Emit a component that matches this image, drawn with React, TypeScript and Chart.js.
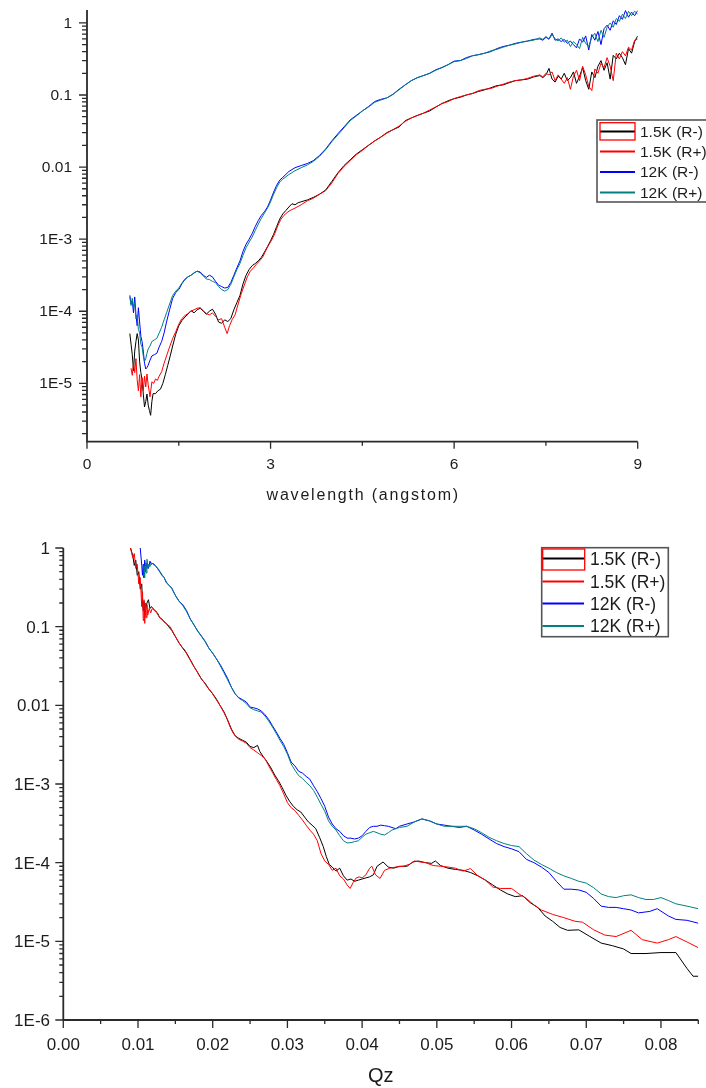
import React, { useEffect, useRef } from 'react';
import { Chart, registerables } from 'chart.js';

Chart.register(...registerables);

// ---------- shared series info ----------
const SERIES_LABELS = ['1.5K (R-)', '1.5K (R+)', '12K (R-)', '12K (R+)'];
const SERIES_COLORS = ['#000000', '#ff0000', '#0000ff', '#008080'];

// ---------- top chart: reflectivity vs wavelength ----------
const TOP_15K_RM: number[][] = [[0.70,4.9e-5],[0.72,3.5e-5],[0.74,2.5e-5],[0.76,1.5e-5],[0.78,2.8e-5],[0.80,3.8e-5],[0.82,4.9e-5],[0.84,4.0e-5],[0.86,2.0e-5],[0.88,1.41e-5],[0.90,1.12e-5],[0.92,7.1e-6],[0.94,4.7e-6],[0.96,5.6e-6],[0.98,7.1e-6],[1.00,5.0e-6],[1.02,4.2e-6],[1.04,3.6e-6],[1.06,5.6e-6],[1.08,7.2e-6],[1.12,7.2e-6],[1.16,7.9e-6],[1.20,8.3e-6],[1.24,1.0e-5],[1.28,1.32e-5],[1.32,1.78e-5],[1.36,2.4e-5],[1.40,3.3e-5],[1.45,4.8e-5],[1.50,6.3e-5],[1.55,7.4e-5],[1.60,8.3e-5],[1.65,9.1e-5],[1.70,1.02e-4],[1.75,9.5e-5],[1.80,1.05e-4],[1.85,1.1e-4],[1.90,1.0e-4],[1.95,9.1e-5],[2.00,1.0e-4],[2.05,1.07e-4],[2.10,9.1e-5],[2.15,7.1e-5],[2.20,6.8e-5],[2.25,7.6e-5],[2.30,7.2e-5],[2.35,7.9e-5],[2.40,1.05e-4],[2.45,1.32e-4],[2.50,1.66e-4],[2.55,2.4e-4],[2.60,3.16e-4],[2.65,3.8e-4],[2.70,4.3e-4],[2.75,4.6e-4],[2.80,5.0e-4],[2.85,5.6e-4],[2.90,6.6e-4],[2.95,7.9e-4],[3.00,9.5e-4],[3.05,1.17e-3],[3.10,1.5e-3],[3.15,1.9e-3],[3.20,2.24e-3],[3.25,2.5e-3],[3.30,2.8e-3],[3.35,3.1e-3],[3.40,3.0e-3],[3.45,3.2e-3],[3.50,3.3e-3],[3.60,3.5e-3],[3.70,3.8e-3],[3.80,4.2e-3],[3.90,4.8e-3],[4.00,6.3e-3],[4.10,8.3e-3],[4.20,1.05e-2],[4.30,1.26e-2],[4.40,1.51e-2],[4.50,1.74e-2],[4.60,2.0e-2],[4.70,2.3e-2],[4.80,2.6e-2],[4.90,3.0e-2],[5.00,3.3e-2],[5.10,3.6e-2],[5.20,4.4e-2],[5.30,4.8e-2],[5.40,5.2e-2],[5.50,5.6e-2],[5.60,6.0e-2],[5.70,6.8e-2],[5.80,7.6e-2],[5.90,8.3e-2],[6.00,8.9e-2],[6.10,9.3e-2],[6.20,0.1],[6.30,0.105],[6.40,0.112],[6.50,0.118],[6.60,0.126],[6.70,0.135],[6.80,0.138],[6.90,0.148],[7.00,0.158],[7.10,0.162],[7.20,0.166],[7.30,0.178],[7.40,0.186],[7.45,0.174],[7.50,0.19],[7.55,0.234],[7.60,0.166],[7.65,0.151],[7.70,0.182],[7.75,0.166],[7.80,0.2],[7.85,0.158],[7.90,0.174],[7.95,0.209],[8.00,0.145],[8.05,0.182],[8.10,0.24],[8.15,0.158],[8.20,0.12],[8.25,0.209],[8.30,0.174],[8.35,0.25],[8.40,0.30],[8.45,0.22],[8.50,0.28],[8.55,0.166],[8.60,0.355],[8.65,0.316],[8.70,0.38],[8.75,0.33],[8.80,0.263],[8.85,0.44],[8.90,0.38],[8.95,0.55],[9.00,0.66]];

const TOP_15K_RP: number[][] = [[0.72,1.62e-5],[0.74,1.29e-5],[0.76,1.9e-5],[0.78,1.41e-5],[0.80,2.2e-5],[0.82,1.12e-5],[0.84,7.9e-6],[0.86,1.32e-5],[0.88,6.5e-6],[0.90,1.2e-5],[0.92,7.9e-6],[0.94,1.26e-5],[0.96,8.9e-6],[0.98,1.35e-5],[1.00,9.5e-6],[1.03,6.5e-6],[1.06,1.05e-5],[1.09,1.0e-5],[1.12,1.15e-5],[1.15,1.1e-5],[1.18,1.26e-5],[1.22,1.45e-5],[1.26,1.9e-5],[1.30,2.4e-5],[1.35,3.2e-5],[1.40,4.2e-5],[1.45,5.2e-5],[1.50,6.6e-5],[1.55,7.9e-5],[1.60,8.7e-5],[1.65,9.3e-5],[1.70,1.0e-4],[1.75,1.05e-4],[1.80,1.1e-4],[1.85,1.12e-4],[1.90,1.02e-4],[1.95,9.3e-5],[2.00,8.9e-5],[2.05,9.5e-5],[2.10,8.5e-5],[2.15,7.6e-5],[2.20,7.9e-5],[2.25,6.0e-5],[2.29,4.9e-5],[2.33,6.3e-5],[2.37,7.6e-5],[2.42,8.9e-5],[2.47,1.26e-4],[2.52,1.74e-4],[2.57,2.3e-4],[2.62,3.0e-4],[2.67,3.6e-4],[2.72,4.0e-4],[2.77,4.5e-4],[2.82,5.0e-4],[2.87,5.6e-4],[2.92,6.9e-4],[2.97,8.3e-4],[3.02,9.8e-4],[3.07,1.2e-3],[3.12,1.55e-3],[3.17,1.9e-3],[3.22,2.14e-3],[3.27,2.34e-3],[3.32,2.5e-3],[3.40,2.7e-3],[3.50,3.0e-3],[3.60,3.4e-3],[3.70,3.7e-3],[3.80,4.2e-3],[3.90,4.7e-3],[4.00,6.0e-3],[4.10,8.1e-3],[4.20,1.02e-2],[4.30,1.23e-2],[4.40,1.48e-2],[4.50,1.7e-2],[4.60,2.0e-2],[4.70,2.3e-2],[4.80,2.6e-2],[4.90,2.95e-2],[5.00,3.3e-2],[5.10,3.7e-2],[5.20,4.3e-2],[5.30,4.8e-2],[5.40,5.2e-2],[5.50,5.6e-2],[5.60,6.2e-2],[5.70,6.8e-2],[5.80,7.6e-2],[5.90,8.1e-2],[6.00,8.9e-2],[6.10,9.5e-2],[6.20,0.1],[6.30,0.105],[6.40,0.115],[6.50,0.12],[6.60,0.123],[6.70,0.132],[6.80,0.141],[6.90,0.151],[7.00,0.158],[7.10,0.162],[7.20,0.17],[7.30,0.182],[7.40,0.19],[7.45,0.178],[7.50,0.2],[7.55,0.19],[7.60,0.209],[7.65,0.158],[7.70,0.19],[7.75,0.166],[7.80,0.145],[7.85,0.174],[7.90,0.12],[7.95,0.182],[8.00,0.22],[8.05,0.158],[8.10,0.25],[8.15,0.19],[8.20,0.132],[8.25,0.115],[8.30,0.23],[8.35,0.2],[8.40,0.275],[8.45,0.24],[8.50,0.33],[8.55,0.25],[8.60,0.158],[8.65,0.38],[8.70,0.316],[8.75,0.40],[8.80,0.35],[8.85,0.46],[8.90,0.42],[8.95,0.575],[9.00,0.60]];

const TOP_12K_RM: number[][] = [[0.70,1.66e-4],[0.72,1.26e-4],[0.74,1.41e-4],[0.76,9.5e-5],[0.78,1.58e-4],[0.80,8.9e-5],[0.82,6.3e-5],[0.84,1.12e-4],[0.86,7.1e-5],[0.88,4.5e-5],[0.90,3.8e-5],[0.92,2.8e-5],[0.94,1.9e-5],[0.96,1.58e-5],[0.98,1.66e-5],[1.00,1.78e-5],[1.03,2.1e-5],[1.06,2.4e-5],[1.10,2.5e-5],[1.14,2.6e-5],[1.18,3.2e-5],[1.22,3.8e-5],[1.26,5.0e-5],[1.30,7.1e-5],[1.35,1.05e-4],[1.40,1.51e-4],[1.45,1.82e-4],[1.50,2.0e-4],[1.55,2.4e-4],[1.60,2.75e-4],[1.65,3.0e-4],[1.70,3.16e-4],[1.75,3.4e-4],[1.80,3.6e-4],[1.85,3.5e-4],[1.90,3.16e-4],[1.95,2.95e-4],[2.00,3.16e-4],[2.05,3.0e-4],[2.10,2.6e-4],[2.15,2.3e-4],[2.20,2.2e-4],[2.25,2.1e-4],[2.30,2.14e-4],[2.35,2.5e-4],[2.40,3.16e-4],[2.45,4.0e-4],[2.50,5.0e-4],[2.55,6.8e-4],[2.60,8.5e-4],[2.65,1.0e-3],[2.70,1.2e-3],[2.75,1.5e-3],[2.80,1.82e-3],[2.85,2.14e-3],[2.90,2.4e-3],[2.95,2.8e-3],[3.00,3.5e-3],[3.05,4.5e-3],[3.10,5.6e-3],[3.15,6.6e-3],[3.20,7.2e-3],[3.30,8.7e-3],[3.40,9.8e-3],[3.50,1.05e-2],[3.60,1.12e-2],[3.70,1.23e-2],[3.80,1.45e-2],[3.90,1.78e-2],[4.00,2.3e-2],[4.10,2.9e-2],[4.20,3.6e-2],[4.30,4.5e-2],[4.40,5.2e-2],[4.50,6.0e-2],[4.60,6.9e-2],[4.70,8.1e-2],[4.80,8.7e-2],[4.90,9.1e-2],[5.00,0.102],[5.10,0.12],[5.20,0.138],[5.30,0.158],[5.40,0.174],[5.50,0.186],[5.60,0.2],[5.70,0.224],[5.80,0.24],[5.90,0.263],[6.00,0.295],[6.10,0.30],[6.20,0.33],[6.30,0.35],[6.40,0.363],[6.50,0.38],[6.60,0.40],[6.70,0.44],[6.80,0.47],[6.90,0.49],[7.00,0.52],[7.10,0.54],[7.20,0.56],[7.30,0.59],[7.40,0.60],[7.45,0.575],[7.50,0.63],[7.55,0.60],[7.60,0.72],[7.65,0.575],[7.70,0.60],[7.75,0.55],[7.80,0.59],[7.85,0.52],[7.90,0.56],[7.95,0.50],[8.00,0.45],[8.05,0.60],[8.10,0.54],[8.15,0.66],[8.20,0.42],[8.25,0.69],[8.30,0.575],[8.35,0.76],[8.40,0.50],[8.45,0.83],[8.50,0.93],[8.55,0.79],[8.60,1.07],[8.65,0.95],[8.70,1.26],[8.75,1.12],[8.80,1.48],[8.85,1.20],[8.90,1.41],[8.95,1.26],[9.00,1.48]];

const TOP_12K_RP: number[][] = [[0.70,1.58e-4],[0.72,1.2e-4],[0.74,1.51e-4],[0.76,1.12e-4],[0.78,1.32e-4],[0.80,7.9e-5],[0.82,8.9e-5],[0.84,5.6e-5],[0.86,5.0e-5],[0.88,3.5e-5],[0.90,3.2e-5],[0.92,2.4e-5],[0.94,2.0e-5],[0.96,2.2e-5],[0.98,2.6e-5],[1.00,3.0e-5],[1.03,3.3e-5],[1.06,3.8e-5],[1.10,4.0e-5],[1.14,4.2e-5],[1.18,5.0e-5],[1.22,6.0e-5],[1.26,7.6e-5],[1.30,9.5e-5],[1.35,1.26e-4],[1.40,1.66e-4],[1.45,1.9e-4],[1.50,2.1e-4],[1.55,2.45e-4],[1.60,2.8e-4],[1.65,3.0e-4],[1.70,3.16e-4],[1.75,3.4e-4],[1.80,3.6e-4],[1.85,3.4e-4],[1.90,3.1e-4],[1.95,2.8e-4],[2.00,2.75e-4],[2.05,2.6e-4],[2.10,2.5e-4],[2.15,2.2e-4],[2.20,2.0e-4],[2.25,1.9e-4],[2.30,2.0e-4],[2.35,2.35e-4],[2.40,3.0e-4],[2.45,3.8e-4],[2.50,4.6e-4],[2.55,6.0e-4],[2.60,7.6e-4],[2.65,9.1e-4],[2.70,1.07e-3],[2.75,1.32e-3],[2.80,1.62e-3],[2.85,1.95e-3],[2.90,2.3e-3],[2.95,2.7e-3],[3.00,3.3e-3],[3.05,4.2e-3],[3.10,5.2e-3],[3.15,6.2e-3],[3.20,6.8e-3],[3.30,7.9e-3],[3.40,8.9e-3],[3.50,9.8e-3],[3.60,1.07e-2],[3.70,1.2e-2],[3.80,1.41e-2],[3.90,1.74e-2],[4.00,2.24e-2],[4.10,2.8e-2],[4.20,3.5e-2],[4.30,4.4e-2],[4.40,5.1e-2],[4.50,6.0e-2],[4.60,6.8e-2],[4.70,7.9e-2],[4.80,8.5e-2],[4.90,9.1e-2],[5.00,0.102],[5.10,0.118],[5.20,0.138],[5.30,0.158],[5.40,0.174],[5.50,0.186],[5.60,0.2],[5.70,0.22],[5.80,0.24],[5.90,0.263],[6.00,0.29],[6.10,0.30],[6.20,0.32],[6.30,0.35],[6.40,0.363],[6.50,0.38],[6.60,0.41],[6.70,0.43],[6.80,0.46],[6.90,0.49],[7.00,0.51],[7.10,0.54],[7.20,0.56],[7.30,0.575],[7.40,0.62],[7.45,0.59],[7.50,0.65],[7.55,0.59],[7.60,0.69],[7.65,0.60],[7.70,0.56],[7.75,0.62],[7.80,0.54],[7.85,0.575],[7.90,0.47],[7.95,0.55],[8.00,0.50],[8.05,0.44],[8.10,0.63],[8.15,0.52],[8.20,0.47],[8.25,0.63],[8.30,0.72],[8.35,0.55],[8.40,0.79],[8.45,0.63],[8.50,0.87],[8.55,1.0],[8.60,0.87],[8.65,1.15],[8.70,1.05],[8.75,1.32],[8.80,1.15],[8.85,1.45],[8.90,1.26],[8.95,1.45],[9.00,1.32]];

const TOP_X_RANGE = [0, 9];
const TOP_Y_RANGE = [1.55e-6, 1.51];
const TOP_X_TICKS = [0, 3, 6, 9];
const TOP_X_TICK_LABELS = ['0', '3', '6', '9'];
const TOP_X_MINOR_TICKS = [1.5, 4.5, 7.5];
const TOP_Y_TICKS = [1e-5, 1e-4, 1e-3, 0.01, 0.1, 1];
const TOP_Y_TICK_LABELS = ['1E-5', '1E-4', '1E-3', '0.01', '0.1', '1'];
const TOP_X_TITLE = 'wavelength (angstom)';

// ---------- bottom chart: reflectivity vs Qz ----------
const BOT_15K_RM: number[][] = [[0.0090,1.0],[0.0093,0.8],[0.0095,0.6],[0.0097,0.7],[0.0099,0.45],[0.0101,0.5],[0.0103,0.3],[0.0105,0.35],[0.0106,0.2],[0.0107,0.16],[0.0108,0.21],[0.0109,0.13],[0.0110,0.16],[0.0112,0.2],[0.0114,0.22],[0.0116,0.17],[0.0118,0.18],[0.0120,0.17],[0.0123,0.16],[0.0126,0.15],[0.0129,0.13],[0.0132,0.125],[0.0135,0.115],[0.0138,0.11],[0.0141,0.1],[0.0145,0.09],[0.0150,0.075],[0.0155,0.062],[0.0160,0.053],[0.0165,0.046],[0.0170,0.038],[0.0175,0.031],[0.0180,0.026],[0.0185,0.0215],[0.0190,0.019],[0.0195,0.016],[0.0200,0.014],[0.0205,0.012],[0.0210,0.0099],[0.0215,0.0083],[0.0220,0.0065],[0.0225,0.005],[0.0230,0.0041],[0.0235,0.0038],[0.0240,0.0036],[0.0245,0.0034],[0.0250,0.003],[0.0255,0.0029],[0.0260,0.0031],[0.0263,0.0026],[0.0268,0.0022],[0.0273,0.0019],[0.0278,0.0016],[0.0283,0.0013],[0.0288,0.0011],[0.0293,0.0009],[0.0298,0.00072],[0.0303,0.0006],[0.0308,0.00052],[0.0313,0.00047],[0.0318,0.00044],[0.0323,0.00038],[0.0328,0.00033],[0.0333,0.0003],[0.0338,0.00027],[0.0343,0.00021],[0.0348,0.00016],[0.0352,0.00012],[0.0356,0.000095],[0.0360,0.000088],[0.0365,0.000078],[0.0370,0.000085],[0.0375,0.000068],[0.0380,0.00006],[0.0385,0.000062],[0.0390,0.000058],[0.0395,0.00006],[0.0400,0.000062],[0.0405,0.000064],[0.0410,0.000066],[0.0415,0.00007],[0.0420,0.00009],[0.0428,0.000102],[0.0435,0.000088],[0.0442,0.000085],[0.0450,0.00009],[0.0460,0.00009],[0.0468,0.000102],[0.0475,0.000105],[0.0485,0.0001],[0.0493,0.000098],[0.0498,0.000105],[0.0505,0.000092],[0.0515,0.000085],[0.0525,0.000082],[0.0535,0.00008],[0.0545,0.000075],[0.0555,0.000068],[0.0565,0.00006],[0.0575,0.000052],[0.0585,0.000045],[0.0595,0.00004],[0.0605,0.000037],[0.0615,0.000038],[0.0625,0.000031],[0.0635,0.000027],[0.0645,0.000021],[0.0655,0.000018],[0.0665,0.000015],[0.0675,0.0000138],[0.0690,0.000014],[0.0705,0.0000115],[0.0720,0.0000095],[0.0735,0.0000088],[0.0750,0.000008],[0.0760,0.000007],[0.0780,0.000007],[0.0800,0.0000072],[0.0820,0.0000072],[0.0835,0.0000045],[0.0843,0.0000036],[0.0850,0.0000036]];

const BOT_15K_RP: number[][] = [[0.0090,1.0],[0.0093,0.75],[0.0095,0.85],[0.0097,0.55],[0.0099,0.62],[0.0101,0.35],[0.0103,0.42],[0.0105,0.18],[0.0106,0.28],[0.0107,0.12],[0.0108,0.22],[0.0109,0.11],[0.0110,0.2],[0.0111,0.13],[0.0112,0.19],[0.0113,0.14],[0.0115,0.17],[0.0117,0.15],[0.0119,0.17],[0.0122,0.16],[0.0125,0.15],[0.0128,0.135],[0.0131,0.125],[0.0134,0.12],[0.0137,0.11],[0.0140,0.105],[0.0143,0.1],[0.0147,0.085],[0.0151,0.072],[0.0155,0.062],[0.0159,0.055],[0.0163,0.05],[0.0167,0.042],[0.0171,0.036],[0.0175,0.031],[0.0179,0.027],[0.0183,0.023],[0.0187,0.0205],[0.0191,0.018],[0.0195,0.016],[0.0199,0.0145],[0.0203,0.0125],[0.0207,0.011],[0.0211,0.0095],[0.0215,0.0081],[0.0219,0.0068],[0.0223,0.0054],[0.0227,0.0045],[0.0231,0.004],[0.0235,0.0037],[0.0240,0.0035],[0.0245,0.0033],[0.0250,0.0029],[0.0255,0.0027],[0.0260,0.0025],[0.0265,0.0023],[0.0270,0.0021],[0.0275,0.0017],[0.0280,0.0014],[0.0285,0.00115],[0.0290,0.00095],[0.0295,0.00075],[0.0300,0.00058],[0.0305,0.0005],[0.0310,0.00046],[0.0315,0.0004],[0.0320,0.00035],[0.0325,0.0003],[0.0330,0.00026],[0.0335,0.00023],[0.0340,0.00019],[0.0345,0.00013],[0.0350,0.000105],[0.0355,0.000095],[0.0360,0.00008],[0.0365,0.000085],[0.0370,0.000068],[0.0375,0.000062],[0.0380,0.000052],[0.0384,0.000047],[0.0388,0.000056],[0.0392,0.000064],[0.0396,0.000066],[0.0400,0.000064],[0.0405,0.00007],[0.0410,0.000085],[0.0413,0.00009],[0.0418,0.00007],[0.0424,0.000063],[0.0430,0.00008],[0.0437,0.000085],[0.0445,0.000088],[0.0455,0.00009],[0.0463,0.000095],[0.0470,0.000105],[0.0478,0.000102],[0.0485,0.0001],[0.0495,0.000092],[0.0505,0.00009],[0.0515,0.000088],[0.0525,0.000085],[0.0535,0.000078],[0.0545,0.000084],[0.0555,0.000068],[0.0565,0.00006],[0.0575,0.000049],[0.0585,0.000047],[0.0600,0.000047],[0.0610,0.00004],[0.0620,0.000035],[0.0630,0.000029],[0.0640,0.000025],[0.0655,0.000022],[0.0670,0.00002],[0.0685,0.000018],[0.0695,0.0000175],[0.0710,0.000014],[0.0725,0.000012],[0.0740,0.0000115],[0.0760,0.0000138],[0.0775,0.0000105],[0.0795,0.0000095],[0.0810,0.0000105],[0.0820,0.0000115],[0.0835,0.0000098],[0.0850,0.0000083]];

const BOT_12K_RM: number[][] = [[0.0103,1.0],[0.0105,0.6],[0.0106,0.45],[0.0107,0.62],[0.0108,0.42],[0.0109,0.7],[0.0110,0.5],[0.0112,0.65],[0.0114,0.55],[0.0116,0.68],[0.0118,0.62],[0.0120,0.64],[0.0123,0.6],[0.0126,0.55],[0.0129,0.5],[0.0132,0.45],[0.0135,0.42],[0.0138,0.36],[0.0141,0.34],[0.0145,0.31],[0.0150,0.25],[0.0155,0.21],[0.0160,0.19],[0.0165,0.16],[0.0170,0.125],[0.0175,0.105],[0.0180,0.088],[0.0185,0.076],[0.0190,0.065],[0.0195,0.053],[0.0200,0.046],[0.0205,0.039],[0.0210,0.033],[0.0215,0.027],[0.0220,0.022],[0.0225,0.017],[0.0230,0.014],[0.0235,0.0125],[0.0240,0.0118],[0.0245,0.011],[0.0250,0.0095],[0.0255,0.0093],[0.0260,0.009],[0.0265,0.0085],[0.0270,0.0076],[0.0275,0.0066],[0.0280,0.0055],[0.0285,0.0046],[0.0290,0.0038],[0.0295,0.0032],[0.0300,0.0025],[0.0305,0.0019],[0.0310,0.0017],[0.0315,0.00145],[0.0320,0.00138],[0.0325,0.00125],[0.0330,0.00115],[0.0335,0.00095],[0.0340,0.0008],[0.0345,0.00065],[0.0350,0.00052],[0.0355,0.00038],[0.0360,0.00031],[0.0365,0.00027],[0.0370,0.00025],[0.0375,0.00022],[0.0380,0.000205],[0.0385,0.000205],[0.0390,0.0002],[0.0395,0.000205],[0.0400,0.00022],[0.0405,0.00025],[0.0410,0.00028],[0.0415,0.00029],[0.0420,0.00029],[0.0425,0.0003],[0.0430,0.000295],[0.0435,0.00029],[0.0440,0.00028],[0.0445,0.00027],[0.0450,0.00029],[0.0460,0.00031],[0.0470,0.00033],[0.0480,0.00036],[0.0490,0.00034],[0.0500,0.00031],[0.0510,0.0003],[0.0520,0.00029],[0.0530,0.00028],[0.0540,0.00029],[0.0550,0.00026],[0.0560,0.00023],[0.0570,0.0002],[0.0580,0.000175],[0.0590,0.00016],[0.0600,0.00015],[0.0610,0.000138],[0.0620,0.00011],[0.0630,0.0001],[0.0640,0.000088],[0.0650,0.000075],[0.0660,0.000058],[0.0670,0.000046],[0.0680,0.000046],[0.0690,0.000045],[0.0700,0.000042],[0.0710,0.000035],[0.0720,0.000028],[0.0730,0.000027],[0.0740,0.000027],[0.0750,0.000026],[0.0760,0.000025],[0.0770,0.000023],[0.0785,0.000024],[0.0795,0.000026],[0.0810,0.000021],[0.0820,0.000019],[0.0835,0.0000185],[0.0850,0.000017]];

const BOT_12K_RP: number[][] = [[0.0107,0.45],[0.0108,0.6],[0.0109,0.42],[0.0110,0.65],[0.0111,0.48],[0.0112,0.72],[0.0113,0.55],[0.0114,0.62],[0.0116,0.58],[0.0118,0.65],[0.0120,0.62],[0.0123,0.6],[0.0126,0.56],[0.0129,0.51],[0.0132,0.46],[0.0135,0.42],[0.0138,0.37],[0.0141,0.34],[0.0145,0.31],[0.0150,0.25],[0.0155,0.21],[0.0160,0.185],[0.0165,0.155],[0.0170,0.125],[0.0175,0.105],[0.0180,0.087],[0.0185,0.075],[0.0190,0.064],[0.0195,0.053],[0.0200,0.046],[0.0205,0.039],[0.0210,0.032],[0.0215,0.026],[0.0220,0.021],[0.0225,0.017],[0.0230,0.014],[0.0235,0.0123],[0.0240,0.0115],[0.0245,0.0105],[0.0250,0.0093],[0.0255,0.0088],[0.0260,0.0085],[0.0265,0.0082],[0.0270,0.0073],[0.0275,0.0063],[0.0280,0.0053],[0.0285,0.0044],[0.0290,0.0036],[0.0295,0.003],[0.0300,0.0024],[0.0305,0.0018],[0.0310,0.0015],[0.0315,0.00128],[0.0320,0.00118],[0.0325,0.00105],[0.0330,0.00095],[0.0335,0.00083],[0.0340,0.00068],[0.0345,0.00055],[0.0350,0.00045],[0.0355,0.00034],[0.0360,0.00029],[0.0365,0.00026],[0.0370,0.00022],[0.0375,0.00019],[0.0380,0.000178],[0.0385,0.00018],[0.0390,0.000185],[0.0395,0.00019],[0.0400,0.00021],[0.0405,0.00023],[0.0410,0.00024],[0.0415,0.00025],[0.0420,0.00024],[0.0425,0.00023],[0.0430,0.000225],[0.0435,0.00024],[0.0440,0.00026],[0.0445,0.00027],[0.0450,0.00028],[0.0460,0.00029],[0.0470,0.00033],[0.0480,0.00036],[0.0490,0.00034],[0.0500,0.00031],[0.0510,0.00029],[0.0520,0.00029],[0.0530,0.00029],[0.0540,0.00029],[0.0550,0.00027],[0.0560,0.00024],[0.0570,0.00021],[0.0580,0.00019],[0.0590,0.000175],[0.0600,0.000165],[0.0610,0.00016],[0.0620,0.00013],[0.0630,0.000108],[0.0640,0.000095],[0.0650,0.000085],[0.0660,0.000075],[0.0670,0.000068],[0.0680,0.000063],[0.0690,0.000058],[0.0700,0.000055],[0.0710,0.000048],[0.0720,0.00004],[0.0730,0.000037],[0.0740,0.000036],[0.0750,0.000038],[0.0760,0.000039],[0.0770,0.000036],[0.0780,0.000034],[0.0790,0.000034],[0.0800,0.000036],[0.0810,0.000033],[0.0820,0.00003],[0.0835,0.000028],[0.0850,0.000026]];

const BOT_X_RANGE = [0, 0.085];
const BOT_Y_RANGE = [1e-6, 1];
const BOT_X_TICKS = [0, 0.01, 0.02, 0.03, 0.04, 0.05, 0.06, 0.07, 0.08];
const BOT_X_TICK_LABELS = ['0.00', '0.01', '0.02', '0.03', '0.04', '0.05', '0.06', '0.07', '0.08'];
const BOT_X_MINOR_TICKS = [0.005, 0.015, 0.025, 0.035, 0.045, 0.055, 0.065, 0.075, 0.085];
const BOT_Y_TICKS = [1e-6, 1e-5, 1e-4, 1e-3, 0.01, 0.1, 1];
const BOT_Y_TICK_LABELS = ['1E-6', '1E-5', '1E-4', '1E-3', '0.01', '0.1', '1'];
const BOT_X_TITLE = 'Qz';

// ---------- styling ----------
const FONT = '"Liberation Sans", Arial, sans-serif';
const AXIS_COLOR = '#2a2a2a';
const TEXT_COLOR = '#1c1c1c';

function logMinorTicks(min: number, max: number): number[] {
  const out: number[] = [];
  for (let e = Math.floor(Math.log10(min)); e <= Math.ceil(Math.log10(max)); e++) {
    for (let m = 2; m <= 9; m++) {
      const v = m * Math.pow(10, e);
      if (v >= min && v <= max) out.push(v);
    }
  }
  return out;
}

type Decor = {
  id: string;
  xTicks: number[]; xLabels: string[]; xMinor: number[];
  yTicks: number[]; yLabels: string[]; yMinor: number[];
  tickFont: number; yLabelRight: number; yLabelDy: number; xLabelBaseline: number;
  yMajorLen: number; yMinorLen: number; xMajorLen: number; xMinorLen: number;
  title: string; titleFont: number; titleBaseline: number; titleSpacing: number;
  legend: { left: number; top: number; width: number; height: number; rows: number[];
    sampleL: number; sampleR: number; textX: number; font: number; dy: number;
    box: number[] };
};

function makeDecor(d: Decor) {
  return {
    id: d.id,
    afterDraw(chart: any) {
      const { ctx, chartArea: a } = chart;
      const xs = chart.scales.x;
      const ys = chart.scales.y;
      ctx.save();
      // tick marks
      ctx.strokeStyle = AXIS_COLOR;
      ctx.lineWidth = 1.3;
      ctx.beginPath();
      d.yTicks.forEach((v) => {
        const p = ys.getPixelForValue(v);
        ctx.moveTo(a.left - d.yMajorLen, p); ctx.lineTo(a.left, p);
      });
      d.yMinor.forEach((v) => {
        const p = ys.getPixelForValue(v);
        ctx.moveTo(a.left - d.yMinorLen, p); ctx.lineTo(a.left, p);
      });
      d.xTicks.forEach((v) => {
        const p = xs.getPixelForValue(v);
        ctx.moveTo(p, a.bottom); ctx.lineTo(p, a.bottom + d.xMajorLen);
      });
      d.xMinor.forEach((v) => {
        const p = xs.getPixelForValue(v);
        ctx.moveTo(p, a.bottom); ctx.lineTo(p, a.bottom + d.xMinorLen);
      });
      ctx.stroke();
      // axis lines
      ctx.lineWidth = 1.8;
      ctx.beginPath();
      ctx.moveTo(a.left, a.top);
      ctx.lineTo(a.left, a.bottom);
      ctx.lineTo(a.right, a.bottom);
      ctx.stroke();
      // tick labels
      ctx.fillStyle = TEXT_COLOR;
      ctx.font = `${d.tickFont}px ${FONT}`;
      ctx.textBaseline = 'alphabetic';
      ctx.textAlign = 'right';
      d.yTicks.forEach((v, i) => {
        ctx.fillText(d.yLabels[i], d.yLabelRight, ys.getPixelForValue(v) + d.yLabelDy);
      });
      ctx.textAlign = 'center';
      d.xTicks.forEach((v, i) => {
        ctx.fillText(d.xLabels[i], xs.getPixelForValue(v), d.xLabelBaseline);
      });
      // axis title
      ctx.font = `${d.titleFont}px ${FONT}`;
      ctx.letterSpacing = `${d.titleSpacing}px`;
      ctx.fillText(d.title, (a.left + a.right) / 2 + d.titleSpacing / 2, d.titleBaseline);
      ctx.letterSpacing = '0px';
      // legend
      const L = d.legend;
      ctx.fillStyle = '#ffffff';
      ctx.fillRect(L.left, L.top, L.width, L.height);
      ctx.strokeStyle = '#555555';
      ctx.lineWidth = 1.6;
      ctx.strokeRect(L.left, L.top, L.width, L.height);
      ctx.font = `${L.font}px ${FONT}`;
      ctx.textAlign = 'left';
      chart.data.datasets.forEach((ds: any, i: number) => {
        const y = L.rows[i];
        ctx.strokeStyle = ds.borderColor;
        ctx.lineWidth = 1.8;
        ctx.beginPath();
        ctx.moveTo(L.sampleL, y); ctx.lineTo(L.sampleR, y);
        ctx.stroke();
        ctx.fillStyle = TEXT_COLOR;
        ctx.fillText(ds.label, L.textX, y + L.dy);
      });
      ctx.strokeStyle = '#ff0000';
      ctx.lineWidth = 1.3;
      ctx.strokeRect(L.box[0], L.box[1], L.box[2], L.box[3]);
      ctx.restore();
    },
  };
}

function buildDatasets(series: number[][][]) {
  return series.map((s, i) => ({
    label: SERIES_LABELS[i],
    data: s.map((p) => ({ x: p[0], y: p[1] })),
    borderColor: SERIES_COLORS[i],
    backgroundColor: SERIES_COLORS[i],
    borderWidth: 1,
    pointRadius: 0,
    tension: 0,
    fill: false,
    order: 4 - i,
  }));
}

function makeConfig(series: number[][][], xRange: number[], yRange: number[], padding: any, decor: Decor): any {
  return {
    type: 'line',
    data: { datasets: buildDatasets(series) },
    options: {
      responsive: false,
      animation: false,
      devicePixelRatio: 1,
      layout: { padding },
      plugins: { legend: { display: false }, title: { display: false }, tooltip: { enabled: false } },
      scales: {
        x: { type: 'linear', min: xRange[0], max: xRange[1], display: false },
        y: { type: 'logarithmic', min: yRange[0], max: yRange[1], display: false },
      },
    },
    plugins: [makeDecor(decor)],
  };
}

function ChartBox({ config, width, height, top }: { config: () => any; width: number; height: number; top: number }) {
  const ref = useRef<HTMLCanvasElement>(null);
  useEffect(() => {
    const chart = new Chart(ref.current as HTMLCanvasElement, config());
    return () => chart.destroy();
  }, []);
  return (
    <canvas
      ref={ref}
      width={width}
      height={height}
      style={{ position: 'absolute', left: 0, top, width, height, display: 'block' }}
    />
  );
}

const topConfig = () =>
  makeConfig(
    [TOP_15K_RM, TOP_15K_RP, TOP_12K_RM, TOP_12K_RP],
    TOP_X_RANGE,
    TOP_Y_RANGE,
    { left: 87, top: 10, right: 68.3, bottom: 68.3 },
    {
      id: 'decorTop',
      xTicks: TOP_X_TICKS, xLabels: TOP_X_TICK_LABELS, xMinor: TOP_X_MINOR_TICKS,
      yTicks: TOP_Y_TICKS, yLabels: TOP_Y_TICK_LABELS, yMinor: logMinorTicks(TOP_Y_RANGE[0], TOP_Y_RANGE[1]),
      tickFont: 15.5, yLabelRight: 72, yLabelDy: 5, xLabelBaseline: 469,
      yMajorLen: 8, yMinorLen: 5, xMajorLen: 7, xMinorLen: 4,
      title: TOP_X_TITLE, titleFont: 16, titleBaseline: 500, titleSpacing: 1.8,
      legend: {
        left: 597, top: 120, width: 130, height: 82, rows: [131.5, 151.5, 172, 192.5],
        sampleL: 600, sampleR: 635, textX: 640, font: 15.5, dy: 5.3,
        box: [600, 122.7, 35, 17.3],
      },
    }
  );

const bottomConfig = () =>
  makeConfig(
    [BOT_15K_RM, BOT_15K_RP, BOT_12K_RM, BOT_12K_RP],
    BOT_X_RANGE,
    BOT_Y_RANGE,
    { left: 63.3, top: 38, right: 7.7, bottom: 68 },
    {
      id: 'decorBottom',
      xTicks: BOT_X_TICKS, xLabels: BOT_X_TICK_LABELS, xMinor: BOT_X_MINOR_TICKS,
      yTicks: BOT_Y_TICKS, yLabels: BOT_Y_TICK_LABELS, yMinor: logMinorTicks(BOT_Y_RANGE[0], BOT_Y_RANGE[1]),
      tickFont: 17, yLabelRight: 50, yLabelDy: 6, xLabelBaseline: 540,
      yMajorLen: 8, yMinorLen: 4, xMajorLen: 8, xMinorLen: 4,
      title: BOT_X_TITLE, titleFont: 20, titleBaseline: 572, titleSpacing: 0,
      legend: {
        left: 541.7, top: 37.7, width: 126.6, height: 89, rows: [48.5, 71.5, 93.5, 116],
        sampleL: 542.5, sampleR: 584, textX: 590, font: 17.5, dy: 6,
        box: [542.7, 39, 42, 21],
      },
    }
  );

export default function App() {
  return (
    <div style={{ position: 'absolute', left: 0, top: 0, width: 706, height: 1088, background: '#ffffff', overflow: 'hidden' }}>
      <ChartBox config={topConfig} width={706} height={510} top={0} />
      <ChartBox config={bottomConfig} width={706} height={578} top={510} />
    </div>
  );
}
